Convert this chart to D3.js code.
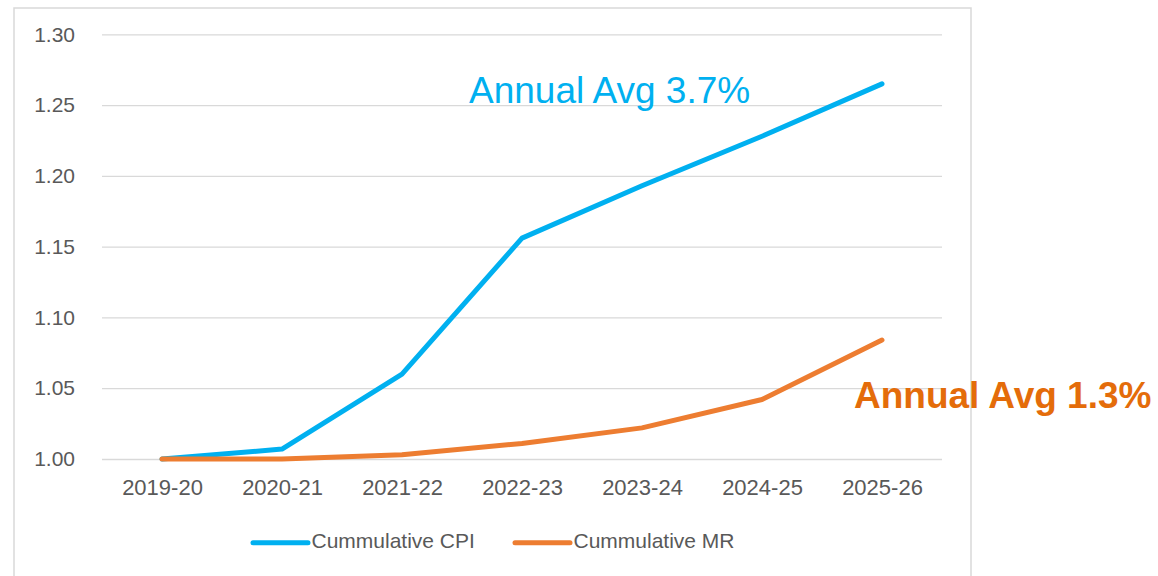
<!DOCTYPE html>
<html>
<head>
<meta charset="utf-8">
<script src="https://cdn.jsdelivr.net/npm/d3@7"></script>
<style>
  html, body { margin: 0; padding: 0; background: #fff; }
  #chart { width: 1158px; height: 576px; }
</style>
</head>
<body>
<div id="chart"></div>
<script>
var TEXTFONT = '"Liberation Sans", Arial, sans-serif';
var YEARS = ['2019-20', '2020-21', '2021-22', '2022-23', '2023-24', '2024-25', '2025-26'];
var CPI = [1.000, 1.007, 1.060, 1.156, 1.193, 1.228, 1.265];
var MR = [1.000, 1.000, 1.003, 1.011, 1.022, 1.042, 1.084];
var Y_TICKS = [1.00, 1.05, 1.10, 1.15, 1.20, 1.25, 1.30];
var SERIES_NAMES = ['Cummulative CPI', 'Cummulative MR'];
var NOTES = ['Annual Avg 3.7%', 'Annual Avg 1.3%'];

var PLOT = { 'left' : 102, 'right' : 942, 'top' : 34.3, 'bottom' : 459 };
var BLUE = '#00b0f0';
var ORANGE = '#ed7d31';
var NOTE_ORANGE = '#e46c0a';
var GRID = '#d9d9d9';
var LABEL = '#595959';

/** Frame around the whole chart, bottom edge runs off the picture. */
function addFrame(svg) {
    return svg.append('rect').attr('x', 14).attr('y', 8).attr('width', 957).attr('height', 620)
        .attr('fill', '#fff').attr('stroke', GRID).attr('stroke-width', 1.5);
};

/** Gridlines and tick labels for the y axis. */
function addYAxis(svg, yScale) {
    var axis = d3.axisLeft(yScale).tickValues(Y_TICKS).tickFormat(d3.format('.2f'))
        .tickSize(-(PLOT.right - PLOT.left)).tickPadding(27);
    var g = svg.append('g').attr('transform', 'translate(' + PLOT.left + ',0)').call(axis);
    g.select('.domain').remove();
    g.selectAll('line').attr('stroke', GRID).attr('stroke-width', 1.3);
    return g.selectAll('text').attr('fill', LABEL).style('font-size', '21px').style('font-family', TEXTFONT);
};

function addXAxis(svg, xScale) {
    var axis = d3.axisBottom(xScale).tickSize(0).tickPadding(20.5);
    var g = svg.append('g').attr('transform', 'translate(0,' + PLOT.bottom + ')').call(axis);
    g.select('.domain').remove();
    return g.selectAll('text').attr('fill', LABEL).style('font-size', '22px').style('font-family', TEXTFONT);
};

function addLine(svg, xScale, yScale, values, color) {
    var line = d3.line().x(function (d, i) {
        return xScale(YEARS[i]);
    }).y(function (d) {
        return yScale(d);
    });
    return svg.append('path').datum(values).attr('d', line).attr('fill', 'none')
        .attr('stroke', color).attr('stroke-width', 5)
        .attr('stroke-linecap', 'round').attr('stroke-linejoin', 'round');
};

function addLegend(svg) {
    var items = [{ 'x' : 253, 'color' : BLUE, 'name' : SERIES_NAMES[0] },
                 { 'x' : 515, 'color' : ORANGE, 'name' : SERIES_NAMES[1] }];
    items.forEach(function (d) {
        svg.append('line').attr('x1', d.x).attr('x2', d.x + 55).attr('y1', 542.7).attr('y2', 542.7)
            .attr('stroke', d.color).attr('stroke-width', 5).attr('stroke-linecap', 'round');
        svg.append('text').attr('x', d.x + 58.5).attr('y', 548.3).text(d.name)
            .attr('fill', LABEL).style('font-size', '21px').style('font-family', TEXTFONT);
    });
};

function addNotes(svg) {
    svg.append('text').attr('x', 469).attr('y', 103.3).text(NOTES[0])
        .attr('fill', BLUE).style('font-size', '37px').style('font-family', TEXTFONT);
    return svg.append('text').attr('x', 854).attr('y', 408.3).text(NOTES[1])
        .attr('fill', NOTE_ORANGE).style('font-size', '37px').style('font-weight', 'bold').style('font-family', TEXTFONT);
};

window.addEventListener('DOMContentLoaded', function () {
    var svg = d3.select('#chart').append('svg').attr('width', 1158).attr('height', 576);
    var xScale = d3.scalePoint().domain(YEARS).range([PLOT.left, PLOT.right]).padding(0.5);
    var yScale = d3.scaleLinear().domain([1.0, 1.3]).range([PLOT.bottom, PLOT.top]);
    addFrame(svg);
    addYAxis(svg, yScale);
    addXAxis(svg, xScale);
    addLine(svg, xScale, yScale, CPI, BLUE);
    addLine(svg, xScale, yScale, MR, ORANGE);
    addLegend(svg);
    addNotes(svg);
});
</script>
</body>
</html>
